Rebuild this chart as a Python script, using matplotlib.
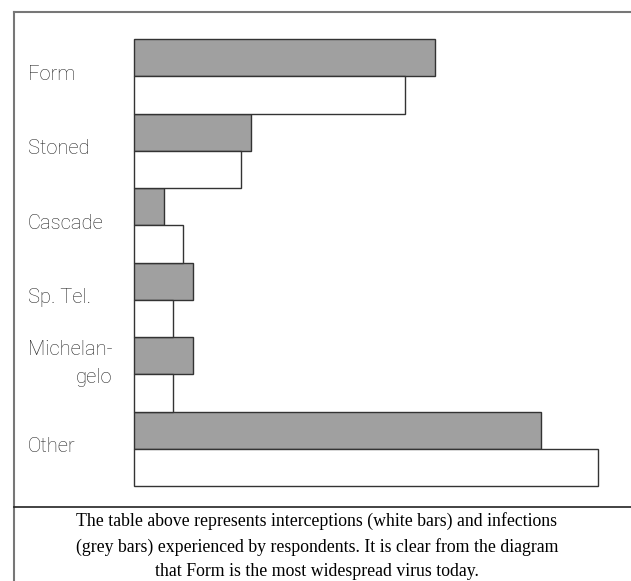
import matplotlib.pyplot as plt
from matplotlib.lines import Line2D
from matplotlib.transforms import blended_transform_factory
import numpy as np

viruses = ["Form", "Stoned", "Cascade", "Sp. Tel.", "Michelan-\ngelo", "Other"]
infections = [301, 117, 30, 59, 59, 407]      # grey bars
interceptions = [271, 107, 49, 39, 39, 464]   # white bars
caption = ("The table above represents interceptions (white bars) and infections\n"
           "(grey bars) experienced by respondents. It is clear from the diagram\n"
           "that Form is the most widespread virus today.")

W, H = 631, 581
fig = plt.figure(figsize=(W / 100, H / 100), dpi=100)

# axes area in pixels
left, right, top, bottom = 134, 631, 39, 486
ax = fig.add_axes([left / W, 1 - bottom / H, (right - left) / W, (bottom - top) / H])

pos = np.arange(len(viruses)) * 2
b1 = ax.barh(pos + 0.5, infections, height=1, left=0, color="#a0a0a0",
             edgecolor="#333333", linewidth=1)
b2 = ax.barh(pos + 1.5, interceptions, height=1, left=0, color="white",
             edgecolor="#333333", linewidth=1)
for r in list(b1) + list(b2):
    r.set_clip_on(False)
ax.set_xlim(0, right - left)
ax.set_ylim(len(viruses) * 2, 0)
ax.axis("off")

# category labels
btrans = blended_transform_factory(fig.transFigure, ax.transData)
for p, name in zip(pos, viruses):
    dy = 0.7 if "\n" in name else 0.95
    ax.text(28 / W, p + dy, name, transform=btrans, ha="left", va="center",
            multialignment="right", fontsize=14.5, color="#262626",
            family="Roboto", weight="light", linespacing=1.6)

# frame lines
fig.add_artist(Line2D([14 / W, 14 / W], [0, 1 - 12 / H], transform=fig.transFigure,
                      color="#777777", lw=1.5))
fig.add_artist(Line2D([14 / W, 1], [1 - 12 / H, 1 - 12 / H], transform=fig.transFigure,
                      color="#777777", lw=1.5))
fig.add_artist(Line2D([14 / W, 1], [1 - 507 / H, 1 - 507 / H], transform=fig.transFigure,
                      color="#222222", lw=1.2))

fig.text(317 / W, 1 - 546 / H, caption, ha="center", va="center",
         fontsize=12.8, family="Liberation Serif", linespacing=1.55, color="black")

fig.savefig("out.png", dpi=100)
plt.close()
